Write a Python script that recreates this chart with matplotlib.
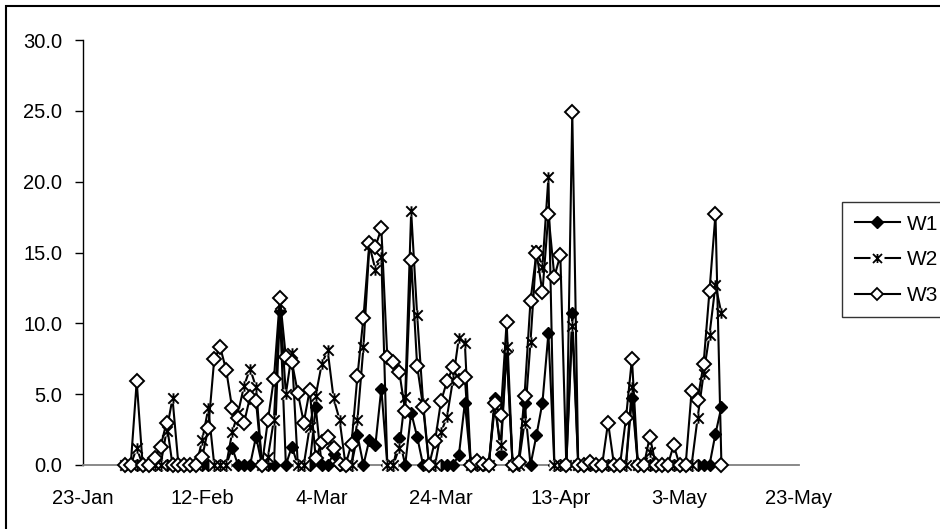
import matplotlib
matplotlib.use("Agg")
import matplotlib.pyplot as plt
from matplotlib.path import Path
from matplotlib.patches import Rectangle
from matplotlib.lines import Line2D
import pandas as pd

plt.rcParams['font.family'] = ['Liberation Sans', 'DejaVu Sans']

# ---- data ----
start_date = "2007-01-30"
w1 = [0, 0, 0, 0, 0, 0, 0, 0, 0, 0,
      0, 0, 0, 0, 0, 0, 0, 0, 1.2, 0,
      0, 0, 2.0, 0, 0, 0, 10.9, 0, 1.3, 0,
      0, 0, 4.1, 0, 0, 0.8, 0, 0, 0, 2.1,
      0, 1.8, 1.4, 5.4, 0, 0, 1.9, 0, 3.7, 2.0,
      0, 0, 0, 0, 0, 0, 0.7, 4.4, 0, 0,
      0, 0, 4.7, 0.8, 8.1, 0, 0, 4.4, 0, 2.1,
      4.4, 9.3, 0, 0, 0, 10.7, 0, 0, 0, 0,
      0, 0, 0, 0, 0, 4.7, 0, 0, 0, 0,
      0, 0, 0, 0, 0, 0, 0, 0, 0, 2.2,
      4.1]
w2 = [0, 0, 1.2, 0, 0, 0, 0, 2.4, 4.7, 0,
      0, 0, 0, 1.8, 4.0, 0, 0, 0, 2.3, 3.7,
      5.6, 6.8, 5.5, 0, 0.6, 3.2, 11.4, 5.0, 7.9, 0,
      0, 2.7, 4.9, 7.1, 8.1, 4.7, 3.2, 0, 0, 3.2,
      8.3, 15.5, 13.8, 14.7, 0, 0, 1.2, 4.8, 17.9, 10.6,
      4.4, 0, 0, 2.3, 3.4, 6.0, 9.0, 8.6, 0, 0,
      0, 0, 4.1, 1.4, 8.3, 0, 0, 3.0, 8.7, 15.2,
      14.0, 20.3, 0, 0, 0, 9.8, 0, 0, 0, 0,
      0, 0, 0, 0, 0, 5.5, 0, 0, 0.9, 0,
      0, 0, 0, 0, 0, 0, 3.3, 6.4, 9.2, 12.7,
      10.7]
w3 = [0, 0, 5.9, 0, 0, 0.5, 1.3, 3.0, 0, 0,
      0, 0, 0, 0.6, 2.6, 7.5, 8.3, 6.7, 4.0, 3.3,
      3.0, 4.8, 4.5, 0, 3.2, 6.1, 11.8, 7.6, 7.3, 5.1,
      3.0, 5.3, 0.5, 1.6, 2.0, 1.2, 0.1, 0, 1.5, 6.3,
      10.4, 15.7, 15.4, 16.7, 7.6, 7.3, 6.6, 3.8, 14.5, 7.0,
      4.1, 0, 1.7, 4.5, 5.9, 6.9, 5.9, 6.2, 0, 0.3,
      0.1, 0, 4.4, 3.5, 10.1, 0, 0.2, 4.9, 11.6, 15.0,
      12.2, 17.7, 13.3, 14.8, 0, 24.9, 0, 0, 0.2, 0,
      0, 3.0, 0, 0, 3.3, 7.5, 0, 0, 2.0, 0,
      0, 0, 1.4, 0, 0, 5.2, 4.6, 7.1, 12.3, 17.7,
      0]
series_names = ["W1", "W2", "W3"]
xtick_dates = ["2007-01-23", "2007-02-12", "2007-03-04", "2007-03-24",
               "2007-04-13", "2007-05-03", "2007-05-23"]
xtick_labels = ["23-Jan", "12-Feb", "4-Mar", "24-Mar", "13-Apr", "3-May", "23-May"]
yticks = [0, 5, 10, 15, 20, 25, 30]

dates = pd.date_range(start_date, periods=len(w1), freq="D")

W, H = 940, 529
fig = plt.figure(figsize=(W / 100, H / 100), dpi=100)
ax = fig.add_axes([83 / W, 1 - 465 / H, (799 - 83) / W, (465 - 40) / H])

star = Path([(-1, -1), (1, 1), (-1, 1), (1, -1), (0, 1), (0, -1)],
            [Path.MOVETO, Path.LINETO, Path.MOVETO, Path.LINETO, Path.MOVETO, Path.LINETO])

lw = 1.5
ms1, ms2, ms3 = 6.5, 7.5, 7.0
ax.plot(dates, w1, color='black', lw=lw, marker='D', ms=ms1,
        mfc='black', mec='black', mew=1.0, zorder=3, clip_on=False)
ax.plot(dates, w2, color='black', lw=lw, zorder=4, clip_on=False)
ax.plot(dates, w2, ls='none', marker='s', ms=7.5, mfc='white', mec='none',
        zorder=4.1, clip_on=False)
ax.plot(dates, w2, ls='none', marker=star, ms=ms2, mec='black', mew=1.4,
        zorder=4.2, clip_on=False)
ax.plot(dates, w3, color='black', lw=lw, marker='D', ms=ms3,
        mfc='white', mec='black', mew=1.4, zorder=5, clip_on=False)

ax.set_xlim(pd.Timestamp(xtick_dates[0]), pd.Timestamp(xtick_dates[-1]))
ax.set_ylim(0, 30)
ax.set_yticks(yticks)
ax.set_yticklabels([f"{v:.1f}" for v in yticks])
ax.set_xticks([pd.Timestamp(d) for d in xtick_dates])
ax.set_xticklabels(xtick_labels)
ax.set_xticks([pd.Timestamp(xtick_dates[0]), pd.Timestamp(xtick_dates[-1])], minor=True)

ax.tick_params(axis='y', which='major', length=6, width=1, color='black',
               labelsize=14.5, pad=9, direction='out')
ax.tick_params(axis='x', which='major', length=0, labelsize=14.5, pad=17)
ax.tick_params(axis='x', which='minor', length=6, width=1, color='black', direction='out')

for s in ['top', 'right']:
    ax.spines[s].set_visible(False)
ax.spines['left'].set_color('black')
ax.spines['left'].set_linewidth(1.0)
ax.spines['bottom'].set_color('#808080')
ax.spines['bottom'].set_linewidth(1.3)

# legend
h1 = Line2D([], [], color='black', lw=lw, marker='D', ms=ms1 - 0.5, mfc='black', mec='black')
h2 = (Line2D([], [], color='black', lw=lw),
      Line2D([], [], ls='none', marker='s', ms=10, mfc='white', mec='none'),
      Line2D([], [], ls='none', marker=star, ms=ms2 - 1, mec='black', mew=1.3))
h3 = Line2D([], [], color='black', lw=lw, marker='D', ms=ms3 - 1, mfc='white', mec='black', mew=1.3)
leg = fig.legend([h1, h2, h3], series_names, loc='upper left',
                 bbox_to_anchor=(842 / W, 1 - 202 / H), bbox_transform=fig.transFigure,
                 fontsize=15, frameon=True, fancybox=False, shadow=False,
                 handlelength=2.2, handletextpad=0.3, labelspacing=0.8,
                 borderpad=0.6, borderaxespad=0)
leg.get_frame().set_edgecolor('black')
leg.get_frame().set_linewidth(1.0)

# outer chart frame (extends beyond the image on the right and bottom)
fig.patches.append(Rectangle((6 / W, -0.2), 2.0, 1.2 - 6 / H, transform=fig.transFigure,
                             fill=False, edgecolor='black', lw=1.5, zorder=0))

fig.savefig("out.png", dpi=100, facecolor='white')
